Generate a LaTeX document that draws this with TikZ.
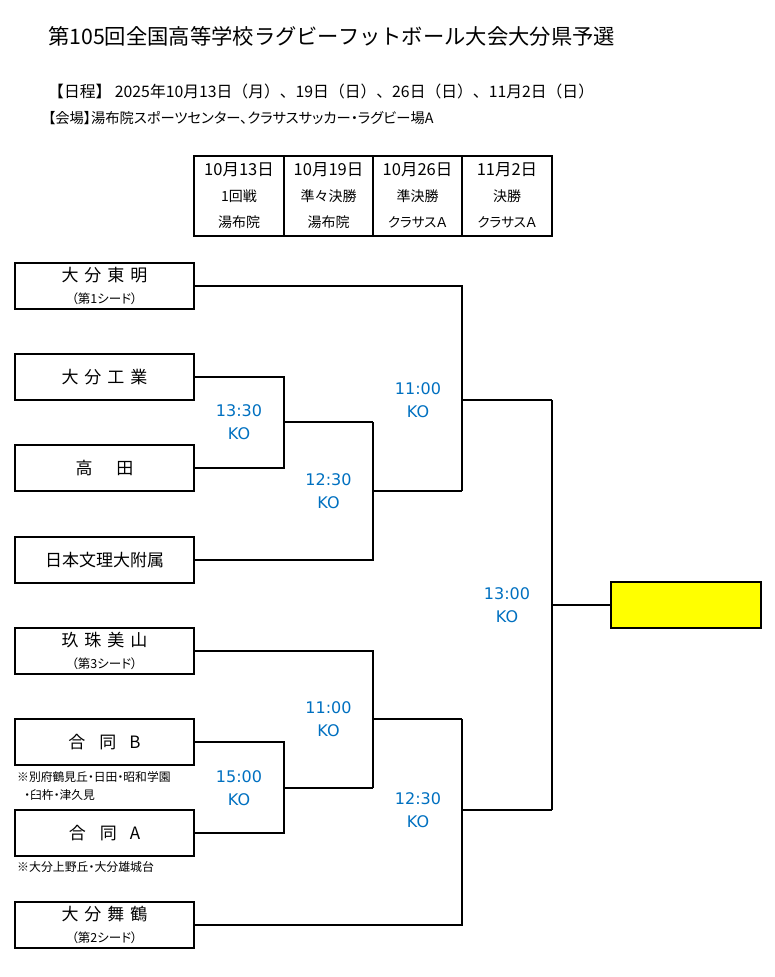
\documentclass[tikz,border=0pt]{standalone}
\usepackage{fontspec}
\setmainfont{Noto Sans CJK JP}
\newfontfamily\jpprop{Noto Sans CJK JP}[RawFeature=+palt]
\newfontfamily\latinf{DejaVu Sans}
\definecolor{kocol}{RGB}{0,112,192}
\definecolor{champy}{RGB}{255,255,0}
\newcommand{\tname}{\fontsize{17}{20}\selectfont}
\newcommand{\tsub}{\jpprop\fontsize{12.5}{15}\selectfont}
\begin{document}
\begin{tikzpicture}[x=1pt,y=-1pt,
  team/.style={draw,line width=2pt,minimum width=179pt,minimum height=46pt,inner sep=0pt,align=center},
  seeded/.style={team,font=\fontsize{17}{22}\selectfont},
  bline/.style={line width=2.4pt},
  thinl/.style={line width=2pt},
  kotext/.style={text=kocol,font=\latinf\fontsize{16}{23}\selectfont,align=center,inner sep=0pt},
  tcell/.style={inner sep=0pt,font=\fontsize{14}{16}\selectfont},
  note/.style={inner sep=0pt,anchor=west,font=\jpprop\fontsize{11.8}{13}\selectfont}]
\useasboundingbox (0,0) rectangle (775,977);
% header
\node[anchor=west,inner sep=0pt,font=\fontsize{21.3}{24}\selectfont] (title) at (48,36) {第105回全国高等学校ラグビーフットボール大会大分県予選};
\node[anchor=west,inner sep=0pt,font=\fontsize{15.8}{18}\selectfont] (sched) at (48,91) {【日程】 2025年10月13日（月）、19日（日）、26日（日）、11月2日（日）};
\node[anchor=west,inner sep=0pt,font=\jpprop\fontsize{14.3}{17}\selectfont] (venue) at (48,118) {【会場】湯布院スポーツセンター、クラサスサッカー・ラグビー場A};
% table
\draw[line width=2pt] (194,156) rectangle (552,236);
\draw[line width=1.2pt] (284,156) -- (284,236);
\draw[line width=2pt] (373,156) -- (373,236);
\draw[line width=2pt] (462,156) -- (462,236);
\node[tcell,font=\jpprop\fontsize{16.5}{18}\selectfont] (d1) at (239,170) {10月13日};
\node[tcell,font=\jpprop\fontsize{16.5}{18}\selectfont] (d2) at (328.5,170) {10月19日};
\node[tcell,font=\jpprop\fontsize{16.5}{18}\selectfont] (d3) at (417.5,170) {10月26日};
\node[tcell,font=\jpprop\fontsize{16.5}{18}\selectfont] (d4) at (507,170) {11月2日};
\node[tcell] (r1) at (239,196) {1回戦};
\node[tcell] (r2) at (328.5,196) {準々決勝};
\node[tcell] (r3) at (417.5,196) {準決勝};
\node[tcell] (r4) at (507,196) {決勝};
\node[tcell] (v1) at (239,222) {湯布院};
\node[tcell] (v2) at (328.5,222) {湯布院};
\node[tcell,font=\jpprop\fontsize{13.5}{16}\selectfont] (v3) at (417.5,222) {クラサスＡ};
\node[tcell,font=\jpprop\fontsize{13.5}{16}\selectfont] (v4) at (507,222) {クラサスＡ};
% teams
\node[seeded] (b1) at (104.5,286) {大\hspace{6pt}分\hspace{6pt}東\hspace{6pt}明\\{\tsub （第1シード）}};
\node[team,font=\tname] (b2) at (104.5,377) {大\hspace{6pt}分\hspace{6pt}工\hspace{6pt}業};
\node[team,font=\tname] (b3) at (104.5,468) {高\hspace{24pt}田};
\node[team,font=\tname] (b4) at (104.5,560) {日本文理大附属};
\node[seeded] (b5) at (104.5,651) {玖\hspace{6pt}珠\hspace{6pt}美\hspace{6pt}山\\{\tsub （第3シード）}};
\node[team,font=\tname] (b6) at (104.5,742) {合\hspace{14pt}同\hspace{13pt}B};
\node[team,font=\tname] (b7) at (104.5,833) {合\hspace{14pt}同\hspace{13pt}A};
\node[seeded] (b8) at (104.5,925) {大\hspace{6pt}分\hspace{6pt}舞\hspace{6pt}鶴\\{\tsub （第2シード）}};
\node[draw,line width=2pt,fill=champy,minimum width=150pt,minimum height=46pt,inner sep=0pt] (champ) at (686,605) {};
% notes
\node[note] (n1) at (17,777) {※別府鶴見丘・日田・昭和学園};
\node[note] (n2) at (24,795) {・臼杵・津久見};
\node[note,font=\jpprop\fontsize{11.9}{13}\selectfont] (n3) at (17,867) {※大分上野丘・大分雄城台};
% bracket top
\coordinate (m1) at (284,422);
\coordinate (m1r) at (373,422);
\coordinate (m2) at (373,491);
\coordinate (m2r) at (462,491);
\coordinate (s1) at (462,400);
\coordinate (s1r) at (552,400);
\draw[thinl] (b2.east) -- (b2.east -| m1) -- (b3.east -| m1) -- (b3.east);
\draw[bline] (m1) -- (m1r);
\draw[bline] (m1r) |- (b4.east);
\draw[bline] (m2) -- (m2r);
\draw[bline] (b1.east) -| (m2r);
\draw[bline] (s1) -- (s1r);
% bracket bottom
\coordinate (m3) at (284,788);
\coordinate (m3r) at (373,788);
\coordinate (m4) at (373,719);
\coordinate (m4r) at (462,719);
\coordinate (s2) at (462,810);
\coordinate (s2r) at (552,810);
\draw[thinl] (b6.east) -- (b6.east -| m3) -- (b7.east -| m3) -- (b7.east);
\draw[bline] (m3) -- (m3r);
\draw[bline] (b5.east) -| (m3r);
\draw[bline] (m4) -- (m4r);
\draw[bline] (b8.east) -| (m4r);
\draw[bline] (s2) -- (s2r);
% final
\coordinate (f) at (552,605);
\draw[bline] (s1r) -- (s2r);
\draw[bline] (f) -- (champ.west);
% KO labels
\node[kotext] (k1) at (239,422.5) {13:30\\KO};
\node[kotext] (k2) at (328.5,491) {12:30\\KO};
\node[kotext] (k3) at (418,400) {11:00\\KO};
\node[kotext] (k4) at (507,605) {13:00\\KO};
\node[kotext] (k5) at (328.5,719) {11:00\\KO};
\node[kotext] (k6) at (239,788) {15:00\\KO};
\node[kotext] (k7) at (418,810) {12:30\\KO};
\end{tikzpicture}
\end{document}
